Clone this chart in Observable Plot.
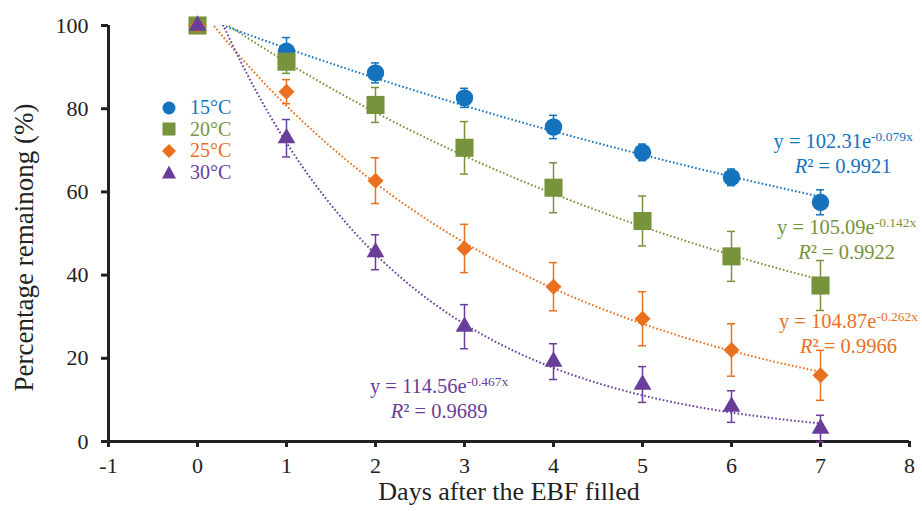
<!DOCTYPE html>
<html>
<head>
<meta charset="utf-8">
<script src="https://cdn.jsdelivr.net/npm/d3@7"></script>
<script src="https://cdn.jsdelivr.net/npm/@observablehq/plot@0.6"></script>
<style>
  html, body { margin: 0; padding: 0; background: #fff; }
  #wrap { position: relative; width: 922px; height: 511px; font-family: "Liberation Serif", "Times New Roman", serif; }
  #wrap svg, #wrap svg text { font-family: "Liberation Serif", "Times New Roman", serif !important; }
  .eq { position: absolute; transform: translate(-50%, -50%); text-align: center; white-space: nowrap; font-size: 20.5px; line-height: 23px; }
  .eq sup { font-size: 13.5px; vertical-align: 0; position: relative; top: -7px; }
  #legend { position: absolute; left: 160px; top: 97px; font-size: 20px; line-height: 21.5px; }
  #legend div { display: flex; align-items: center; height: 21.5px; }
  #legend svg { width: 18px; height: 18px; margin-right: 12px; }
</style>
</head>
<body>
<div id="wrap"></div>
<script>
// ---- data ----
const days = [0, 1, 2, 3, 4, 5, 6, 7];
const seriesNames = ["15°C", "20°C", "25°C", "30°C"];
const colors = ["#1573bd", "#77933c", "#e8701f", "#6a3d9a"];
const symbols = ["circle", "square", "diamond2", "triangle"];
const symbolR = [8.7, 10.2, 7.2, 6.6];

const v15 = [100, 93.8, 88.6, 82.6, 75.6, 69.5, 63.5, 57.5];
const e15 = [0, 3.3, 2.4, 2.3, 2.8, 2, 2, 3];
const v20 = [100, 91.3, 80.9, 70.6, 61, 53, 44.5, 37.5];
const e20 = [0, 2.8, 4.2, 6.3, 6, 6, 6, 6];
const v25 = [100, 84.1, 62.7, 46.4, 37.2, 29.5, 22, 15.9];
const e25 = [0, 2.9, 5.5, 5.8, 5.8, 6.5, 6.3, 6];
const v30 = [100, 72.9, 45.5, 27.6, 19.2, 13.7, 8.4, 3.1];
const e30 = [0, 4.5, 4.2, 5.3, 4.3, 4.3, 3.8, 3.2];

// exponential trendline coefficients  y = a * e^(b x)
const fitA = [102.31, 105.09, 104.87, 114.56];
const fitB = [-0.079, -0.142, -0.262, -0.467];
const fitR2 = ["0.9921", "0.9922", "0.9966", "0.9689"];
// annotation anchors (data coordinates)
const eqX = [7.26, 7.3, 7.32, 2.72];
const eqY = [69, 48.3, 25.7, 10];

const xTicks = [-1, 0, 1, 2, 3, 4, 5, 6, 7, 8];
const yTicks = [0, 20, 40, 60, 80, 100];

const values = [v15, v20, v25, v30];
const errors = [e15, e20, e25, e30];

const points = [];
values.forEach((vs, s) => vs.forEach((v, i) => points.push({s, day: days[i], v, e: errors[s][i]})));

const fitCurves = seriesNames.map((_, s) =>
  d3.range(0, 7.0001, 0.05).map(x => ({s, x, y: fitA[s] * Math.exp(fitB[s] * x)})));

const marks = [];
// trendlines
fitCurves.forEach((c, s) => marks.push(Plot.line(c, {x: "x", y: "y", stroke: colors[s], strokeWidth: 2, strokeDasharray: "1.6,2.2", strokeLinecap: "butt", clip: true})));
// axes
marks.push(Plot.axisX(xTicks, {tickSize: 6, strokeWidth: 3, stroke: "#222", fontSize: 22, fill: "#222", tickPadding: 10, label: null, tickFormat: d => String(d)}));
marks.push(Plot.axisY(yTicks, {tickSize: 7, strokeWidth: 3, stroke: "#222", fontSize: 22, fill: "#222", tickPadding: 13, label: null, tickFormat: d => String(d)}));
marks.push(Plot.ruleX([-1], {y1: 0, y2: 100, stroke: "#222", strokeWidth: 3}));
marks.push(Plot.ruleY([0], {stroke: "#222", strokeWidth: 3}));
// error bars + markers
seriesNames.forEach((_, s) => {
  const d = points.filter(p => p.s === s && p.e > 0);
  marks.push(Plot.ruleX(d, {x: "day", y1: p => p.v - p.e, y2: p => p.v + p.e, stroke: colors[s], strokeWidth: 1.5}));
  marks.push(Plot.ruleY(d, {y: p => p.v + p.e, x1: "day", x2: "day", insetLeft: -4, insetRight: -4, stroke: colors[s], strokeWidth: 1.5}));
  marks.push(Plot.ruleY(d, {y: p => p.v - p.e, x1: "day", x2: "day", insetLeft: -4, insetRight: -4, stroke: colors[s], strokeWidth: 1.5}));
});
seriesNames.forEach((_, s) => {
  const d = points.filter(p => p.s === s);
  marks.push(Plot.dot(d, {x: "day", y: "v", symbol: () => symbols[s], r: symbolR[s], fill: colors[s], stroke: "none"}));
});
// axis titles
marks.push(Plot.text(["Percentage remainong (%)"], {frameAnchor: "left", textAnchor: "middle", dx: -84, dy: 14, rotate: -90, fontSize: 27, fill: "#222", text: d => d}));
marks.push(Plot.text(["Days after the EBF filled"], {frameAnchor: "bottom", dy: 58, fontSize: 26, fill: "#222", text: d => d}));

const plot = Plot.plot({
  width: 922,
  height: 511,
  marginTop: 25,
  marginRight: 13,
  marginBottom: 70,
  marginLeft: 108,
  style: {fontFamily: "'Liberation Serif', 'Times New Roman', serif", background: "#fff", overflow: "visible"},
  x: {domain: [-1, 8]},
  y: {domain: [0, 100]},
  symbol: {type: "identity"},
  marks
});

const wrap = document.getElementById("wrap");
wrap.appendChild(plot);

const sx = plot.scale("x"), sy = plot.scale("y");
seriesNames.forEach((_, s) => {
  const div = document.createElement("div");
  div.className = "eq";
  div.style.color = colors[s];
  div.style.left = sx.apply(eqX[s]) + "px";
  div.style.top = sy.apply(eqY[s]) + "px";
  div.innerHTML = `y = ${fitA[s].toFixed(2)}e<sup>${fitB[s].toFixed(3)}x</sup><br><i>R</i>² = ${fitR2[s]}`;
  wrap.appendChild(div);
});

// legend
const legend = document.createElement("div");
legend.id = "legend";
const shapes = [
  '<circle cx="9" cy="9" r="6.5"/>',
  '<rect x="2.5" y="2.5" width="13" height="13"/>',
  '<polygon points="9,2 16,9 9,16 2,9"/>',
  '<polygon points="9,2.5 16,15.5 2,15.5"/>'
];
seriesNames.forEach((name, s) => {
  const row = document.createElement("div");
  row.style.color = colors[s];
  row.innerHTML = `<svg viewBox="0 0 18 18"><g fill="${colors[s]}">${shapes[s]}</g></svg><span>${name}</span>`;
  legend.appendChild(row);
});
wrap.appendChild(legend);
</script>
</body>
</html>
